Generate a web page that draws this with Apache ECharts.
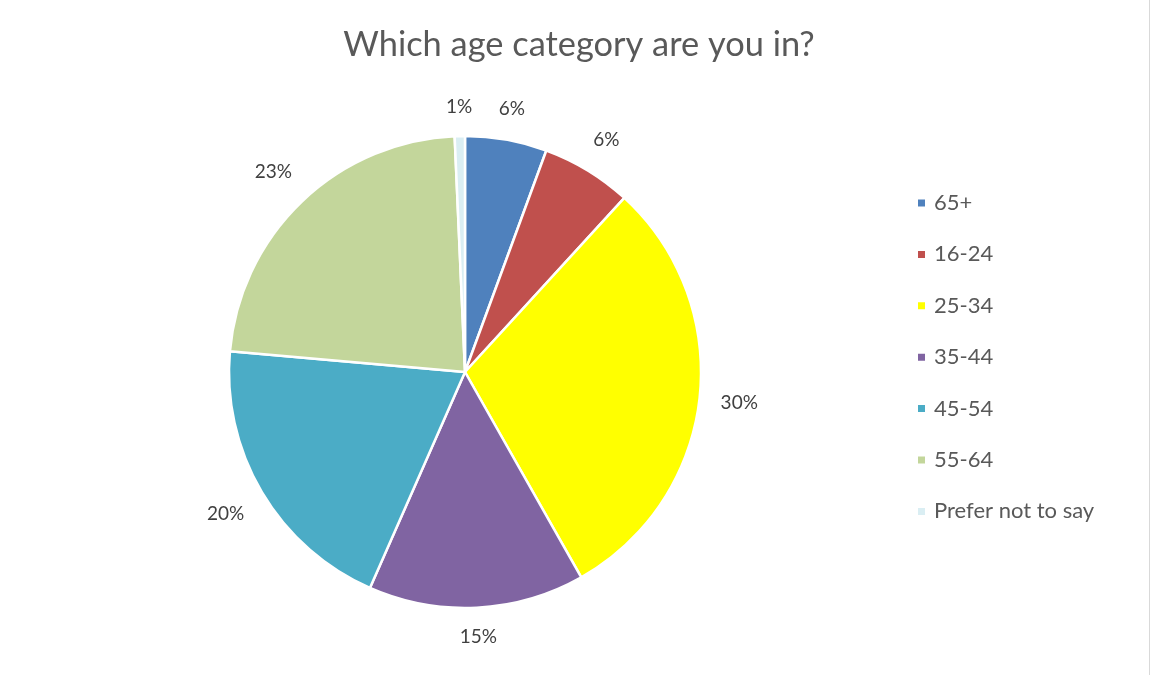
<!DOCTYPE html>
<html>
<head>
<meta charset="utf-8">
<script src="https://cdn.jsdelivr.net/npm/echarts@6/dist/echarts.min.js"></script>
<style>
html,body{margin:0;padding:0;background:#fff;}
#c{width:1149px;height:675px;border-right:1px solid #d9d9d9;}
</style>
</head>
<body>
<div id="c"></div>
<script>
const categories = ['65+', '16-24', '25-34', '35-44', '45-54', '55-64', 'Prefer not to say'];
const values = [5.6, 6.2, 30.0, 14.8, 19.8, 22.9, 0.7];
const colors = ['#4F81BD', '#C0504D', '#FFFF00', '#8064A2', '#4BACC6', '#C3D69B', '#DAEEF3'];

const GAP = 15, PADX = 5, PADY = 4;
const chart = echarts.init(document.getElementById('c'));
chart.setOption({
  animation: false,
  title: {
    text: 'Which age category are you in?',
    left: 574, top: 23, textAlign: 'center',
    textStyle: {fontFamily: 'Lato', fontSize: 34.4, fontWeight: 'normal', color: '#595959'}
  },
  legend: {
    orient: 'vertical', left: 911, top: 187,
    itemWidth: 9, itemHeight: 9, itemGap: 29.4, icon: 'rect',
    textStyle: {fontFamily: 'Lato', fontSize: 22, color: '#595959', padding: [0,0,0,3]},
    data: categories
  },
  series: [{
    type: 'pie',
    center: [465, 372], radius: 236,
    startAngle: 90, clockwise: true,
    itemStyle: {borderColor: '#fff', borderWidth: 2.5},
    label: {
      show: true, position: 'outside',
      fontFamily: 'Lato', fontSize: 19, color: '#404040',
      formatter: p => Math.round(p.value) + '%'
    },
    labelLine: {show: false, length: 18, length2: 0},
    labelLayout: function (p) {
      const lay = chart.getModel().getSeriesByIndex(0).getData().getItemLayout(p.dataIndex);
      const mid = (lay.startAngle + lay.endAngle) / 2;
      const ux = Math.cos(mid), uy = Math.sin(mid);
      const hw = p.labelRect.width / 2 + PADX, hh = p.labelRect.height / 2 + PADY;
      const ext = hw * Math.abs(ux) + hh * Math.abs(uy);
      const d = lay.r + GAP + ext;
      return {x: lay.cx + ux * d, y: lay.cy + uy * d, align: 'center', verticalAlign: 'middle'};
    },
    data: categories.map((c, i) => ({name: c, value: values[i], itemStyle: {color: colors[i]}}))
  }]
});
</script>
</body>
</html>
